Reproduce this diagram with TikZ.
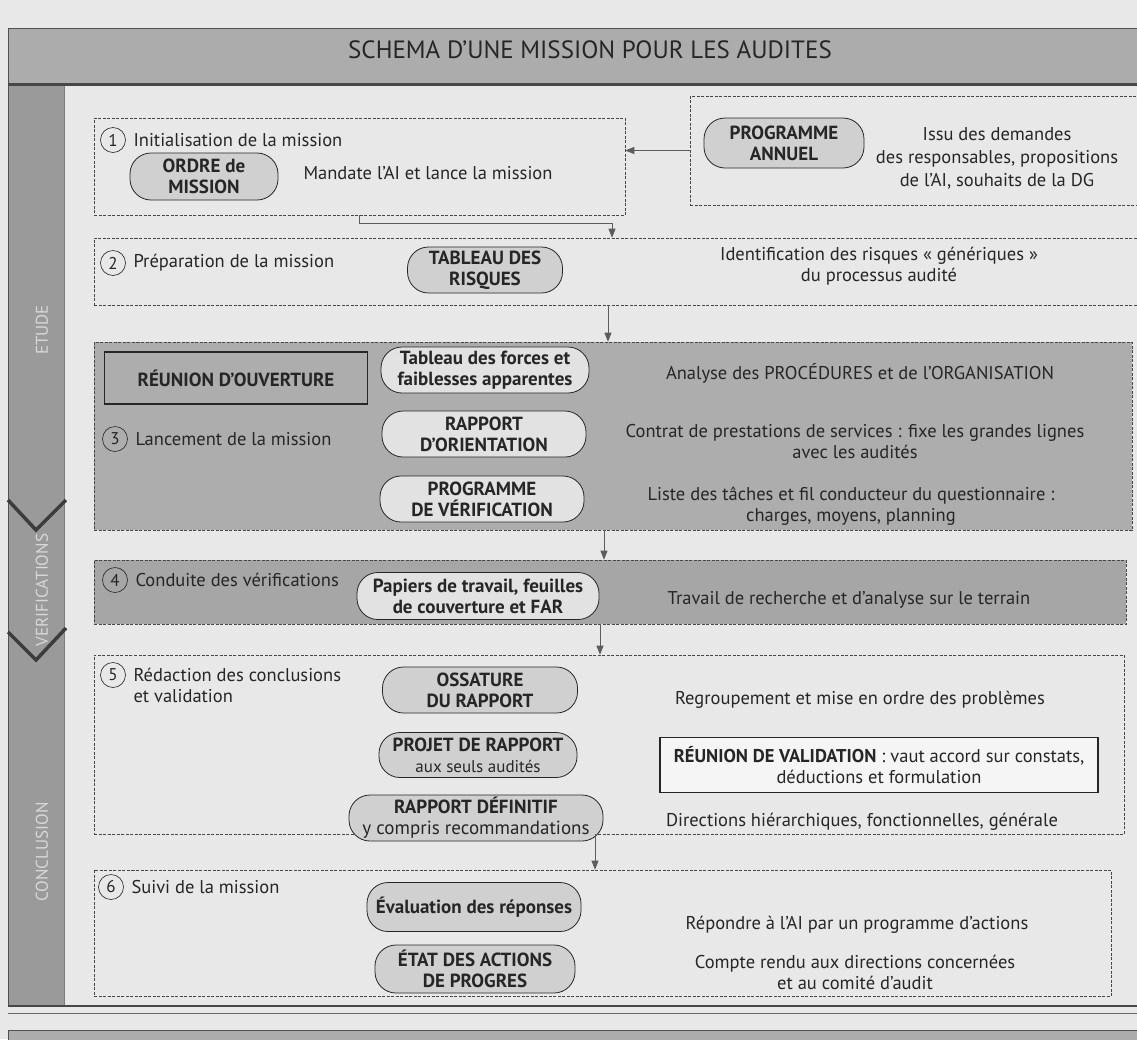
\documentclass[tikz,border=0pt]{standalone}
\usepackage{fontspec}
\setmainfont{PT Sans}
\usetikzlibrary{arrows.meta}
\definecolor{bg}{HTML}{E8E8E8}
\definecolor{ink}{HTML}{262626}
\definecolor{side}{HTML}{9A9A9A}
\definecolor{band}{HTML}{ACACAC}
\definecolor{panel}{HTML}{ADADAD}
\definecolor{panelb}{HTML}{A6A6A6}
\definecolor{pill}{HTML}{D0D0D0}
\definecolor{pilllight}{HTML}{E2E2E2}
\definecolor{sidetext}{HTML}{D8D8D8}
\begin{document}
\begin{tikzpicture}[x=1pt,y=-1pt,
  every node/.style={font=\fontsize{18.5}{21}\selectfont, text=ink},
  dbox/.style={draw=ink!85, dash pattern=on 3pt off 1.5pt, line width=0.6pt, inner sep=0pt},
  pillbox/.style={draw=ink, line width=0.8pt, rounded corners=21pt, fill=pill, align=center, inner sep=0pt,
    font=\fontsize{19}{21}\selectfont\bfseries},
  rectbox/.style={draw=ink, line width=1.2pt, align=center, inner sep=0pt},
  num/.style={circle, draw=ink, line width=0.6pt, minimum size=25pt, inner sep=0pt, font=\fontsize{17}{17}\selectfont},
  lbl/.style={anchor=west, align=left},
  desc/.style={align=center},
  sidelbl/.style={rotate=90, text=sidetext, font=\fontsize{17}{18}\selectfont},
  arr/.style={draw=ink!75, line width=0.7pt, -{Triangle[length=9pt,width=7pt]}},
  chev/.style={draw=ink!90, line width=3.5pt}
]
\useasboundingbox (0,0) rectangle (1137,1039);
\clip (0,0) rectangle (1137,1039);
\fill[bg] (0,0) rectangle (1137,1039);

% header band and sidebar
\fill[band] (8,28) rectangle (1150,84);
\draw[ink!80, line width=1pt] (8,84) -- (8,28) -- (1150,28);
\node[font=\fontsize{25}{28}\selectfont] (title) at (590,50) {SCHEMA D’UNE MISSION POUR LES AUDITES};
\fill[side] (8,84) rectangle (64,1005);
\draw[ink!80, line width=0.8pt] (8,84) -- (8,1005);
\draw[ink!60, line width=0.8pt] (64,84) -- (64,1005);
\draw[ink!85, line width=3pt] (8,84) -- (1150,84);
\node[sidelbl] (etude) at (42,330) {ETUDE};
\node[sidelbl] (verif) at (42,590) {VERIFICATIONS};
\node[sidelbl] (concl) at (42,852) {CONCLUSION};
\draw[chev] (8,500) -- (36,530) -- (66,500);
\draw[chev] (8,632) -- (36,660) -- (66,628);

% bottom lines and next block
\draw[ink!85, line width=2.2pt] (8,1006) -- (1150,1006);
\draw[ink!70, line width=0.8pt] (8,1013) -- (1150,1013);
\fill[band] (8,1030) rectangle (1150,1050);
\draw[ink!80, line width=1pt] (8,1050) -- (8,1030) -- (1150,1030);

% dashed boxes
\node[dbox, minimum width=531pt, minimum height=97pt] (b1) at (359.5,166.5) {};
\node[dbox, minimum width=470pt, minimum height=109pt] (bp) at (925,150.5) {};
\node[dbox, minimum width=1066pt, minimum height=67pt] (b2) at (627,271.5) {};
\node[dbox, fill=panel, minimum width=1038pt, minimum height=188pt] (b3) at (613,436) {};
\node[dbox, fill=panelb, minimum width=1032pt, minimum height=64pt] (b4) at (610,592) {};
\node[dbox, minimum width=1030pt, minimum height=179pt] (b5) at (609,744.5) {};
\node[dbox, minimum width=1017pt, minimum height=126pt] (b6) at (602.5,933) {};

% box 1
\node[num] (n1) at (113,140) {1};
\node[lbl] (l1) at (130,140) {Initialisation de la mission};
\node[pillbox, minimum width=148pt, minimum height=47pt] (ordre) at (204,176.5) {ORDRE de\\MISSION};
\node[lbl] (d1) at (300,173) {Mandate l’AI et lance la mission};

% programme annuel
\node[pillbox, minimum width=160pt, minimum height=50pt] (pa) at (784,143) {PROGRAMME\\ANNUEL};
\node[desc, font=\fontsize{18.5}{23}\selectfont] (dpa) at (997,158) {Issu des demandes\\des responsables, propositions\\de l’AI, souhaits de la DG};

% box 2
\node[num] (n2) at (113,263) {2};
\node[lbl] (l2) at (130,263) {Préparation de la mission};
\node[pillbox, minimum width=155pt, minimum height=46pt] (tr) at (485,270) {TABLEAU DES\\RISQUES};
\node[desc] (d2) at (879,266) {Identification des risques « génériques »\\du processus audité};

% box 3
\node[rectbox, fill=panel, minimum width=263pt, minimum height=52pt, font=\fontsize{19}{21}\selectfont\bfseries] (ro) at (236,378) {RÉUNION D’OUVERTURE};
\node[pillbox, fill=pilllight, minimum width=208pt, minimum height=46pt] (tf) at (485,370) {Tableau des forces et\\faiblesses apparentes};
\node[num] (n3) at (115,439) {3};
\node[lbl] (l3) at (132,439) {Lancement de la mission};
\node[pillbox, fill=pilllight, minimum width=204pt, minimum height=46pt] (rap) at (484,434) {RAPPORT\\D’ORIENTATION};
\node[pillbox, fill=pilllight, minimum width=204pt, minimum height=46pt] (pv) at (482,499) {PROGRAMME\\DE VÉRIFICATION};
\node[desc] (d3a) at (860,373) {Analyse des PROCÉDURES et de l’ORGANISATION};
\node[desc] (d3b) at (855,442) {Contrat de prestations de services : fixe les grandes lignes\\avec les audités};
\node[desc] (d3c) at (851,506) {Liste des tâches et fil conducteur du questionnaire :\\charges, moyens, planning};

% box 4
\node[num] (n4) at (115,580) {4};
\node[lbl] (l4) at (132,580) {Conduite des vérifications};
\node[pillbox, fill=pilllight, minimum width=242pt, minimum height=47pt] (pt) at (478,596) {Papiers de travail, feuilles\\de couverture et FAR};
\node[desc] (d4) at (849,600) {Travail de recherche et d’analyse sur le terrain};

% box 5
\node[num] (n5) at (113,675) {5};
\node[lbl] (l5) at (130,685) {Rédaction des conclusions\\et validation};
\node[pillbox, minimum width=195pt, minimum height=46pt] (oss) at (480,690) {OSSATURE\\DU RAPPORT};
\node[desc] (d5a) at (860,700) {Regroupement et mise en ordre des problèmes};
\node[pillbox, minimum width=198pt, minimum height=45pt] (pr) at (478,755) {PROJET DE RAPPORT\\{\mdseries\fontsize{17}{19}\selectfont aux seuls audités}};
\node[rectbox, fill=white!96!black, minimum width=438pt, minimum height=55pt] (rv) at (879,765) {\textbf{RÉUNION DE VALIDATION} : vaut accord sur constats,\\déductions et formulation};
\node[pillbox, minimum width=254pt, minimum height=46pt] (rd) at (476,818) {RAPPORT DÉFINITIF\\{\mdseries y compris recommandations}};
\node[desc] (d5b) at (862,822) {Directions hiérarchiques, fonctionnelles, générale};

% box 6
\node[num] (n6) at (111,887) {6};
\node[lbl] (l6) at (128,887) {Suivi de la mission};
\node[pillbox, minimum width=214pt, minimum height=49pt] (ev) at (474,907) {Évaluation des réponses};
\node[desc] (d6a) at (857,925) {Répondre à l’AI par un programme d’actions};
\node[pillbox, minimum width=200pt, minimum height=48pt] (et) at (475,969) {ÉTAT DES ACTIONS\\DE PROGRES};
\node[desc] (d6b) at (855,972) {Compte rendu aux directions concernées\\et au comité d’audit};

% connectors
\coordinate (k1) at (612,223);
\coordinate (k2) at (608,0);
\coordinate (k3) at (604,0);
\coordinate (k4) at (600,0);
\coordinate (k5) at (595,0);
\draw[arr] (bp.west) -- (bp.west -| b1.east);
\draw[arr] (b1.south) |- (k1) -- (k1 |- b2.north);
\draw[arr] (b2.south -| k2) -- (b3.north -| k2);
\draw[arr] (b3.south -| k3) -- (b4.north -| k3);
\draw[arr] (b4.south -| k4) -- (b5.north -| k4);
\draw[arr] (b5.south -| k5) -- (b6.north -| k5);
\end{tikzpicture}
\end{document}
